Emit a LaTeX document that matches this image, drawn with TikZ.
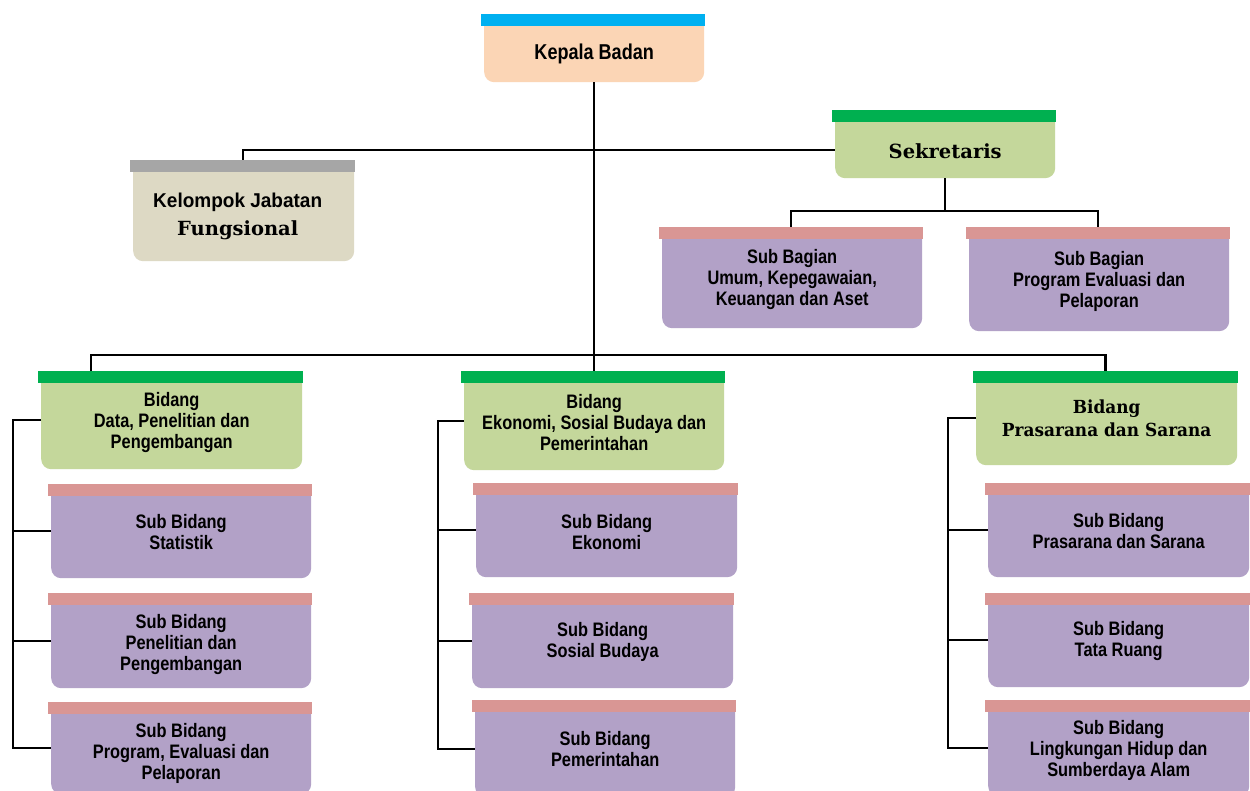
\documentclass[tikz,border=0pt]{standalone}
\usepackage{fontspec}
\usetikzlibrary{calc}
\newfontfamily\sbf[FakeStretch=0.84]{Liberation Sans}
\newfontfamily\sbfw[FakeStretch=0.95]{Liberation Sans}
\newfontfamily\srf{DejaVu Serif}
\newfontfamily\srfn[FakeStretch=0.94]{DejaVu Serif}
\definecolor{cKepBar}{HTML}{00B0F0}
\definecolor{cKepFill}{HTML}{FBD5B5}
\definecolor{cKelBar}{HTML}{A6A6A6}
\definecolor{cKelFill}{HTML}{DDD9C4}
\definecolor{cGrnBar}{HTML}{00B050}
\definecolor{cGrnFill}{HTML}{C4D79B}
\definecolor{cPurBar}{HTML}{D99694}
\definecolor{cPurFill}{HTML}{B2A1C7}
\tikzset{
  conn/.style={draw=black, line width=2pt},
  body/.style={anchor=north west, inner sep=0pt, rounded corners=10pt, draw=none},
  bar/.style={anchor=north west, inner sep=0pt, minimum height=12pt, draw=none},
  txt/.style={inner sep=0pt, align=center, text=black, font=\sbf\bfseries\fontsize{19.5}{21}\selectfont},
  kepbody/.style={fill=cKepFill}, kepbar/.style={fill=cKepBar},
  kelbody/.style={fill=cKelFill}, kelbar/.style={fill=cKelBar},
  grnbody/.style={fill=cGrnFill}, grnbar/.style={fill=cGrnBar},
  purbody/.style={fill=cPurFill}, purbar/.style={fill=cPurBar},
}
% name, left, right, top, bottom, colour set, text offset, text
\newcommand\orgbox[8]{%
  \node[body,#6body, minimum width={(#3-#2)*1pt}, minimum height={(#5-#4)*1pt}] (#1) at (#2,#4) {};
  \node[bar,#6bar, minimum width={(#3-#2+4)*1pt}] (#1-bar) at (#2-3,#4) {};
  \node[txt] (#1-t) at ($(#1.center)+(#7)$) {#8};
}
\begin{document}
\begin{tikzpicture}[x=1pt,y=-1pt]
\clip (0,0) rectangle (1250,791);
\fill[white] (0,0) rectangle (1250,791);

\orgbox{kep}{484}{704}{14}{82}{kep}{0,6}{\fontsize{21.5}{22}\selectfont Kepala Badan}
\orgbox{kel}{133}{354}{160}{261}{kel}{-6,5.5}{\sbfw\bfseries\fontsize{20}{21}\selectfont Kelompok Jabatan\\[7pt]{\srf\bfseries\fontsize{19.5}{21}\selectfont Fungsional}}
\orgbox{sek}{835}{1055}{110}{178}{grn}{0,7}{\srf\bfseries\fontsize{19.5}{21}\selectfont Sekretaris}
\orgbox{sb1}{662}{922}{227}{328}{pur}{0,1.5}{Sub Bagian\\Umum, Kepegawaian,\\Keuangan dan Aset}
\orgbox{sb2}{969}{1229}{227}{331}{pur}{0,2}{Sub Bagian\\Program Evaluasi dan\\Pelaporan}

\orgbox{bid1}{41}{302}{371}{469}{grn}{0,2}{Bidang\\Data, Penelitian dan\\Pengembangan}
\orgbox{bid2}{464}{724}{371}{470}{grn}{0,1.5}{Bidang\\Ekonomi, Sosial Budaya dan\\Pemerintahan}
\orgbox{bid3}{976}{1237}{371}{465}{grn}{0,0.5}{\srfn\bfseries\fontsize{18}{21}\selectfont Bidang\\[2pt]\srfn\bfseries\fontsize{18}{21}\selectfont Prasarana dan Sarana}

\orgbox{s11}{51}{311}{484}{578}{pur}{0,1}{Sub Bidang\\Statistik}
\orgbox{s12}{51}{311}{593}{688}{pur}{0,3.5}{Sub Bidang\\Penelitian dan\\Pengembangan}
\orgbox{s13}{51}{311}{702}{794}{pur}{0,5}{Sub Bidang\\Program, Evaluasi dan\\Pelaporan}

\orgbox{s21}{476}{737}{483}{577}{pur}{0,1.5}{Sub Bidang\\Ekonomi}
\orgbox{s22}{472}{733}{593}{688}{pur}{0,1}{Sub Bidang\\Sosial Budaya}
\orgbox{s23}{475}{735}{700}{797}{pur}{0,0}{Sub Bidang\\Pemerintahan}

\orgbox{s31}{988}{1249}{483}{577}{pur}{0,0.5}{Sub Bidang\\Prasarana dan Sarana}
\orgbox{s32}{988}{1249}{593}{687}{pur}{0,0.5}{Sub Bidang\\Tata Ruang}
\orgbox{s33}{988}{1249}{700}{796}{pur}{0,2.5}{Sub Bidang\\Lingkungan Hidup dan\\Sumberdaya Alam}

% connectors
\coordinate (bidL) at (91,355);
\coordinate (sekj) at ($(sek.south)+(0,33)$);
\coordinate (c1) at (13,0);
\coordinate (c2) at (438,0);
\coordinate (c3) at (948,0);

\draw[conn] (kep.south) -- (kep.south |- bid2-bar.north);
\draw[conn] (kel-bar.north) |- ([yshift=-6pt]sek.west);
\draw[conn] (sek.south) -- (sekj);
\draw[conn] (sb1-bar.north) |- (sekj) -| (sb2-bar.north);
\draw[conn, line width=2.5pt] (bid1-bar.north -| bidL) -- (bidL) -- (bidL -| bid3-bar.north) -- (bid3-bar.north);

\draw[conn] (bid1.west) -| (s13.west -| c1) -- (s13.west);
\draw[conn] (s11.west -| c1) -- (s11.west);
\draw[conn] (s12.west -| c1) -- (s12.west);

\draw[conn] (bid2.west) -| (s23.west -| c2) -- (s23.west);
\draw[conn] (s21.west -| c2) -- (s21.west);
\draw[conn] (s22.west -| c2) -- (s22.west);

\draw[conn] (bid3.west) -| (s33.west -| c3) -- (s33.west);
\draw[conn] (s31.west -| c3) -- (s31.west);
\draw[conn] (s32.west -| c3) -- (s32.west);
\end{tikzpicture}
\end{document}
